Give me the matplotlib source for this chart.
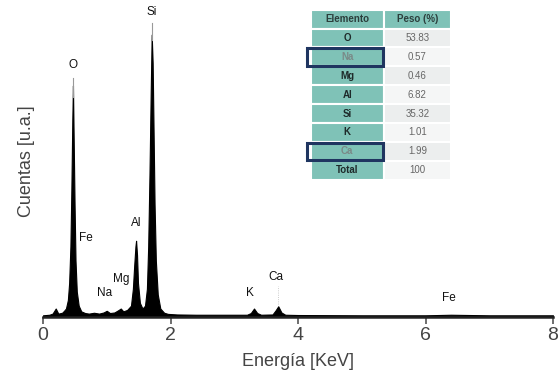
import matplotlib
matplotlib.use("Agg")
import matplotlib.pyplot as plt
from matplotlib.patches import Rectangle

plt.rcParams['font.family'] = ['Liberation Sans', 'DejaVu Sans']

# Spectrum outline (energy keV, counts a.u.)
energy = [0.00, 0.10, 0.15, 0.20, 0.24, 0.30, 0.33, 0.36, 0.39, 0.41, 0.43, 0.445, 0.46, 0.47,
          0.48, 0.495, 0.51, 0.53, 0.56, 0.60, 0.66, 0.72, 0.80, 0.88, 0.95, 1.00, 1.05, 1.12,
          1.18, 1.22, 1.26, 1.32, 1.38, 1.41, 1.43, 1.45, 1.46, 1.475, 1.49, 1.52, 1.56, 1.60,
          1.63, 1.65, 1.67, 1.69, 1.705, 1.72, 1.735, 1.75, 1.77, 1.80, 1.84, 1.90, 1.96, 2.10,
          2.40, 2.80, 3.20, 3.26, 3.31, 3.36, 3.42, 3.60, 3.65, 3.69, 3.74, 3.80, 4.00, 5.00,
          6.00, 6.40, 7.00, 8.00]
counts = [0.6, 0.8, 1.2, 3.0, 1.2, 1.5, 2.2, 3.0, 6.0, 12.0, 25.0, 45.0, 70.0, 82.0,
          65.0, 40.0, 20.0, 9.0, 4.0, 2.0, 1.4, 1.2, 1.5, 1.2, 1.6, 2.2, 1.4, 1.6,
          2.4, 3.0, 2.0, 2.5, 4.0, 10.0, 18.0, 25.0, 27.0, 22.0, 12.0, 5.0, 3.0, 4.0,
          10.0, 25.0, 50.0, 80.0, 100.0, 90.0, 65.0, 40.0, 20.0, 8.0, 3.0, 1.5, 1.1, 0.9,
          0.8, 0.8, 0.8, 1.4, 3.0, 1.4, 0.8, 0.9, 2.4, 3.8, 1.6, 0.8, 0.7, 0.6,
          0.6, 0.8, 0.6, 0.6]

# Peak labels
label_text = ['O', 'Si', 'Fe', 'Al', 'Mg', 'Na', 'K', 'Ca', 'Fe']
label_x = [0.47, 1.705, 0.68, 1.46, 1.22, 0.97, 3.25, 3.66, 6.37]
label_y = [87, 106, 26, 31, 11.5, 6.5, 6.5, 12, 4.5]

# Table data
elements = ['O', 'Na', 'Mg', 'Al', 'Si', 'K', 'Ca', 'Total']
weights = ['53.83', '0.57', '0.46', '6.82', '35.32', '1.01', '1.99', '100']
header = ['Elemento', 'Peso (%)']
highlighted = ['Na', 'Ca']

fig = plt.figure(figsize=(5.59, 3.85), dpi=100)
ax = fig.add_axes([43/559, (385-317)/385, 510/559, 312/385])

ax.fill_between(energy, 0, counts, color='black', lw=0.8, edgecolor='black')
ax.set_xlim(0, 8)
ax.set_ylim(0, 110.5)

for s in ['top', 'right', 'left']:
    ax.spines[s].set_visible(False)
ax.spines['bottom'].set_linewidth(1.8)
ax.spines['bottom'].set_color('#222222')
ax.set_yticks([])
ax.set_xticks([0, 2, 4, 6, 8])
ax.tick_params(axis='x', direction='out', length=5, width=1.2, color='#555555',
               labelsize=14, labelcolor='#444444', pad=2)
ax.set_xlabel('Energía [KeV]', fontsize=13, color='#444444', labelpad=7)
ax.set_ylabel('Cuentas [u.a.]', fontsize=13, color='#444444', labelpad=6)

for t, x, y in zip(label_text, label_x, label_y):
    ax.text(x, y, t, ha='center', va='bottom', fontsize=8.5, color='#111111')

# thin grey leader lines for O and Si
ax.plot([label_x[0], label_x[0]], [78, 84.5], color='#999999', lw=0.8)
ax.plot([label_x[1], label_x[1]], [98, 104], color='#999999', lw=0.8)
ax.plot([3.69, 3.69], [4.5, 11], color='#bbbbbb', lw=0.6, ls=':')

# table
teal = '#7fc2b7'
cell_text = [header] + [[e, w] for e, w in zip(elements, weights)]
colours = [[teal, teal]]
for i in range(len(elements)):
    colours.append([teal, '#eceeee' if i % 2 == 0 else '#f5f6f6'])
x0, y0, w, h = 0.525, 0.44, 0.275, 0.545
tbl = ax.table(cellText=cell_text, cellColours=colours, cellLoc='center',
               bbox=[x0, y0, w, h], colWidths=[0.52, 0.48])
tbl.auto_set_font_size(False)
nrows = len(cell_text)
for (r, c), cell in tbl.get_celld().items():
    cell.set_edgecolor('white')
    cell.set_linewidth(1.5)
    txt = cell.get_text()
    txt.set_fontsize(7)
    if r == 0:
        txt.set_color('#2c3e3c'); txt.set_fontweight('bold')
    elif c == 0:
        txt.set_color('#1e2a2a'); txt.set_fontweight('bold')
    else:
        txt.set_color('#666666')
    if c == 0 and r > 0 and elements[r-1] in highlighted:
        txt.set_color('#7a8a88')

row_h = h / nrows
for el in highlighted:
    r = elements.index(el) + 1
    yb = y0 + h - (r + 1) * row_h
    ax.add_patch(Rectangle((x0 - 0.008, yb + 0.002), w * 0.52 + 0.006, row_h - 0.004,
                           transform=ax.transAxes, fill=False, edgecolor='#1f3560',
                           lw=2.2, zorder=10, clip_on=False))

fig.savefig('out.png', dpi=100)
